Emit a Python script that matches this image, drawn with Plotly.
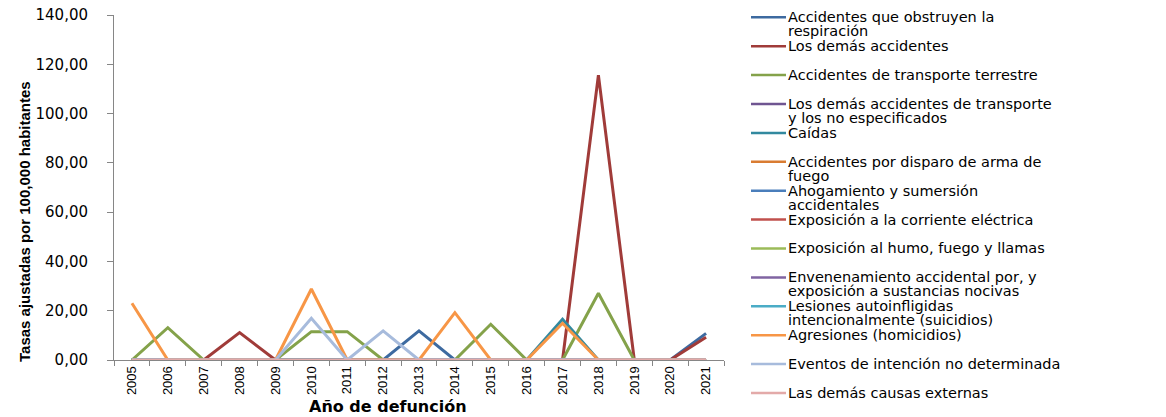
import plotly.graph_objects as go

years = [str(y) for y in range(2005, 2022)]

series_names = [
    "Accidentes que obstruyen la respiración",
    "Los demás accidentes",
    "Accidentes de transporte terrestre",
    "Los demás accidentes de transporte y los no especificados",
    "Caídas",
    "Accidentes por disparo de arma de fuego",
    "Ahogamiento y sumersión accidentales",
    "Exposición a la corriente eléctrica",
    "Exposición al humo, fuego y llamas",
    "Envenenamiento accidental por, y exposición a sustancias nocivas",
    "Lesiones autoinfligidas intencionalmente (suicidios)",
    "Agresiones (homicidios)",
    "Eventos de intención no determinada",
    "Las demás causas externas",
]

# legend text as wrapped in the reference
legend_lines = [
    ["Accidentes que obstruyen la", "respiración"],
    ["Los demás accidentes"],
    ["Accidentes de transporte terrestre"],
    ["Los demás accidentes de transporte", "y los no especificados"],
    ["Caídas"],
    ["Accidentes por disparo de arma de", "fuego"],
    ["Ahogamiento y sumersión", "accidentales"],
    ["Exposición a la corriente eléctrica"],
    ["Exposición al humo, fuego y llamas"],
    ["Envenenamiento accidental por, y", "exposición a sustancias nocivas"],
    ["Lesiones autoinfligidas", "intencionalmente (suicidios)"],
    ["Agresiones (homicidios)"],
    ["Eventos de intención no determinada"],
    ["Las demás causas externas"],
]

#            2005  2006  2007  2008  2009  2010  2011  2012  2013  2014  2015  2016  2017  2018   2019 2020 2021
obstruyen = [0,    0,    0,    0,    0,    0,    0,    0,    11.8, 0,    0,    0,    0,    0,     0,   0,   10.8]
demas_acc = [0,    0,    0,    11.1, 0,    0,    0,    0,    0,    0,    0,    0,    0,    115.6, 0,   0,   9.2]
transporte = [0,   13.1, 0,    0,    0,    11.5, 11.5, 0,    0,    0,    14.5, 0,    0,    27.1,  0,   0,   0]
otros_transp = [0] * 17
caidas =    [0,    0,    0,    0,    0,    0,    0,    0,    0,    0,    0,    0,    16.5, 0,     0,   0,   0]
disparo = [0] * 17
ahogamiento = [0] * 17
corriente = [0] * 17
humo = [0] * 17
envenenamiento = [0] * 17
suicidios = [0] * 17
agresiones = [23.0, 0,   0,    0,    0,    28.8, 0,    0,    0,    19.2, 0,    0,    14.9, 0,     0,   0,   0]
eventos =   [0,    0,    0,    0,    0,    16.9, 0,    11.8, 0,    0,    0,    0,    0,    0,     0,   0,   0]
demas_causas = [0] * 17

values = [obstruyen, demas_acc, transporte, otros_transp, caidas, disparo, ahogamiento,
          corriente, humo, envenenamiento, suicidios, agresiones, eventos, demas_causas]

colors = ["#3d6aa0", "#a03b39", "#84a24a", "#6f5591", "#32899f", "#d97c32", "#4a7ebb",
          "#c0504d", "#9bbb59", "#8064a2", "#4bacc6", "#f79646", "#a7bbdc", "#e3aaa9"]

OFF = 8  # the page body adds an 8px margin around the figure
W, H = 1166 - OFF, 417 - OFF
L, R, T, B = 114 - OFF, 724 - OFF, 15 - OFF, 360 - OFF


def px(x):
    return (x - OFF - L) / (R - L)


def py(y):
    return (B - (y - OFF)) / (B - T)


fig = go.Figure()
for name, vals, col in zip(series_names, values, colors):
    fig.add_trace(go.Scatter(x=years, y=vals, name=name, mode="lines",
                             line=dict(color=col, width=3), cliponaxis=False,
                             showlegend=False))

annotations = []
shapes = []
txt_font = dict(family="DejaVu Sans, Arial, sans-serif", size=14.5, color="#000000")
for i, (lines, col) in enumerate(zip(legend_lines, colors)):
    yc = 17.3 + 28.9 * i
    shapes.append(dict(type="line", xref="paper", yref="paper",
                       x0=px(751), x1=px(786), y0=py(yc), y1=py(yc),
                       line=dict(color=col, width=2.5)))
    for j, t in enumerate(lines):
        annotations.append(dict(text=t, xref="paper", yref="paper",
                                x=px(787), y=py(yc + 14 * j), xanchor="left",
                                yanchor="middle", showarrow=False, font=txt_font,
                                borderpad=0))

annotations.append(dict(text="<b>Año de defunción</b>", xref="paper", yref="paper",
                        x=px(388), y=py(406), xanchor="center", yanchor="middle",
                        showarrow=False,
                        font=dict(family="DejaVu Sans, Arial, sans-serif", size=16, color="#000")))
annotations.append(dict(text="<b>Tasas ajustadas por 100,000 habitantes</b>", xref="paper",
                        yref="paper", x=px(24), y=py(222), xanchor="center", yanchor="middle",
                        textangle=-90, showarrow=False, borderpad=0,
                        font=dict(family="Liberation Sans, Arial, sans-serif",
                                  size=15, color="#000")))

fig.update_layout(
    width=W, height=H,
    margin=dict(l=L, r=W - R, t=T, b=H - B, pad=0, autoexpand=False),
    paper_bgcolor="#ffffff", plot_bgcolor="#ffffff",
    separators=",.",
    showlegend=False,
    annotations=annotations,
    shapes=shapes,
    xaxis=dict(type="category", categoryorder="array", categoryarray=years,
               range=[-0.5, 16.5], tickson="boundaries", ticks="outside", ticklen=5,
               tickcolor="#868686", showline=True, linecolor="#868686", linewidth=1,
               showgrid=False, zeroline=False, tickangle=-90, automargin=False,
               ticklabeloverflow="allow",
               tickfont=dict(family="Liberation Sans, Arial, sans-serif",
                             size=13, color="#000")),
    yaxis=dict(range=[0, 140], dtick=20, tick0=0, tickformat=".2f", ticks="outside",
               ticklen=6, tickcolor="#868686", showline=True, linecolor="#868686",
               linewidth=1, showgrid=False, zeroline=False, ticklabelstandoff=16,
               automargin=False, ticklabeloverflow="allow",
               tickfont=dict(family="DejaVu Sans, Arial, sans-serif", size=15, color="#000")),
)

fig.write_html("out.html")
